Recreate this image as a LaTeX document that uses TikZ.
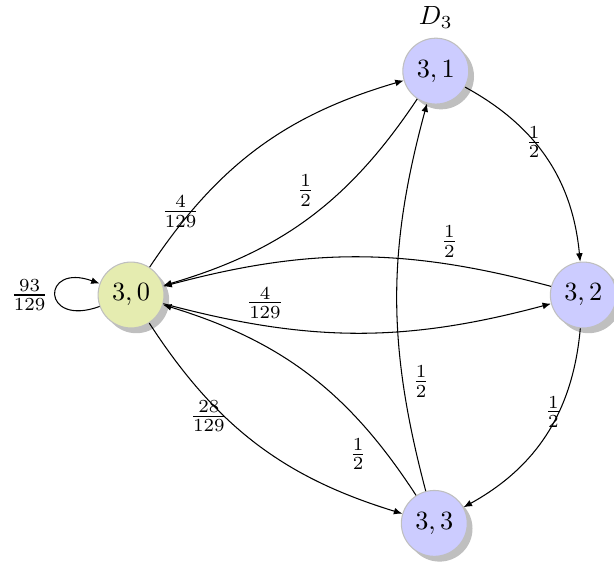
\documentclass[tikz,border=0pt]{standalone}
\usepackage{tikz}
\usetikzlibrary{arrows.meta, positioning, shadows}
\usepackage{amsmath}
\usepackage{xcolor}
\definecolor{startfill}{RGB}{229,236,176}
\definecolor{statefill}{RGB}{204,204,255}
\tikzset{
  myarr/.style = {-{Latex[length=3.2pt, width=2.6pt]}, line width=0.4pt},
  %% State presets
  sbox/.style  = {circle, draw=black!25, minimum size=0.88cm, inner sep=0pt,
                  drop shadow={shadow xshift=2pt, shadow yshift=-2pt,
                  fill=black!25, opacity=1}},
  ibox/.style  = {sbox, fill=startfill},
  qbox/.style  = {sbox, fill=statefill},
  prob/.style  = {inner sep=1.5pt},
}
\begin{document}
\begin{tikzpicture}[line width=0.4pt]
\useasboundingbox (-1.75,-3.59) rectangle (6.45,3.94);

%% ---- States ----
\node[ibox] (s30) at (0, 0)        {$3,0$};
\node[qbox] (s31) at (4.07, 2.99)  {$3,1$};
\node[qbox] (s32) at (6.04, 0)     {$3,2$};
\node[qbox] (s33) at (4.05, -3.05) {$3,3$};

\node[above=0pt of s31] (d3) {$D_3$};

%% ---- Self loop ----
\draw[myarr] (s30) to[out=200, in=160, looseness=7]
  node[prob, left=1pt] {$\frac{93}{129}$} (s30);

%% ---- Transitions out of (3,0) ----
\draw[myarr] (s30) to[bend left=20]
  node[prob, pos=.2, left=-5pt] {$\frac{4}{129}$} (s31);
\draw[myarr] (s30) to[bend right=15]
  node[prob, pos=.25, above=1pt] {$\frac{4}{129}$} (s32);
\draw[myarr] (s30) to[bend right=20]
  node[prob, pos=.36, left=-3pt] {$\frac{28}{129}$} (s33);

%% ---- Transitions back ----
\draw[myarr] (s31) to[bend left=20]
  node[prob, pos=.46, above left] {$\frac{1}{2}$} (s30);
\draw[myarr] (s32) to[bend right=15]
  node[prob, pos=.25, above=1pt] {$\frac{1}{2}$} (s30);
\draw[myarr] (s33) to[bend right=20]
  node[prob, pos=.22, below left] {$\frac{1}{2}$} (s30);

%% ---- Cycle (3,1) -> (3,2) -> (3,3) -> (3,1) ----
\draw[myarr] (s31) to[bend left=28]
  node[prob, pos=.4, right=-5pt] {$\frac{1}{2}$} (s32);
\draw[myarr] (s32) to[bend left=28]
  node[prob, pos=.38, right=-7pt] {$\frac{1}{2}$} (s33);
\draw[myarr] (s33) to[bend left=15]
  node[prob, pos=.27, right=2pt] {$\frac{1}{2}$} (s31);

\end{tikzpicture}
\end{document}
